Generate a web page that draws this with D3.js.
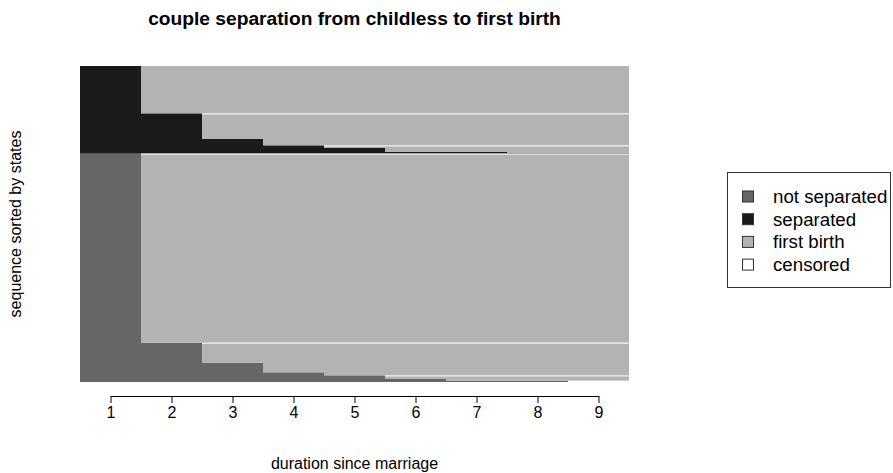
<!DOCTYPE html>
<html lang="en">
<head>
    <meta charset="UTF-8">
    <title>couple separation from childless to first birth</title>
    <script src="https://d3js.org/d3.v7.min.js"></script>
    <style>
        body { margin: 0; background: #fff; }
        text { font-family: Arial, "Liberation Sans", sans-serif; fill: #000; }
    </style>
</head>
<body>
    <div id="chart"></div>
    <script>
        // States (alphabet) and their codes
        const stateCodes = ["N", "S", "F", "C"];
        const stateLabels = ["not separated", "separated", "first birth", "censored"];
        const stateColors = ["#666666", "#1a1a1a", "#b3b3b3", "#ffffff"];

        // Time points
        const periods = [1, 2, 3, 4, 5, 6, 7, 8, 9];

        // Distinct sequences, in sorted order (first one drawn at the bottom)
        const sequences = [
            "NNNNNNNNC", "NNNNNNFFF", "NNNNNFFFF", "NNNNFFFFF", "NNNFFFFFF",
            "NNFFFFFFF", "NFFFFFFFF",
            "SSSSSSSSS", "SSSSSSSFF", "SSSSSFFFF", "SSSSFFFFF", "SSSFFFFFF",
            "SSFFFFFFF", "SFFFFFFFF"
        ];
        // Number of couples following each sequence
        const seqCounts = [4, 5, 11, 9, 29, 60, 567, 3, 3, 11, 8, 19, 77, 142];

        // Sequences whose first-birth spell shows a light seam on top (as in the original)
        const seamSeqs = ["NNNNNFFFF", "NNFFFFFFF", "NFFFFFFFF", "SSSSFFFFF", "SSFFFFFFF"];

        const W = 893, H = 473;
        const svg = d3.select("#chart").append("svg")
            .attr("width", W)
            .attr("height", H);

        const total = d3.sum(seqCounts);
        const cumStart = d3.cumsum([0].concat(seqCounts));

        // Scales
        const x = d3.scaleLinear().domain([0.5, 9.5]).range([80, 629]);
        const y = d3.scaleLinear().domain([0, total]).range([382, 66]);
        const color = d3.scaleOrdinal().domain(stateCodes).range(stateColors);

        // For every period, merge neighbouring sequences in the same state into one block
        const blocks = [];
        periods.forEach((p, t) => {
            let i0 = 0;
            for (let i = 1; i <= sequences.length; i++) {
                if (i === sequences.length || sequences[i][t] !== sequences[i0][t]) {
                    blocks.push({state: sequences[i0][t], period: p, y0: cumStart[i0], y1: cumStart[i]});
                    i0 = i;
                }
            }
        });

        // seams on top of selected first-birth spells
        const seams = [];
        sequences.forEach((s, i) => {
            if (seamSeqs.includes(s)) {
                seams.push({from: periods[s.indexOf("F")], y: cumStart[i + 1]});
            }
        });

        // Sequence blocks
        svg.append("g").selectAll("rect")
            .data(blocks)
            .enter().append("rect")
            .attr("x", d => x(d.period - 0.5))
            .attr("width", d => x(d.period + 0.5) - x(d.period - 0.5))
            .attr("y", d => y(d.y1))
            .attr("height", d => y(d.y0) - y(d.y1))
            .attr("fill", d => color(d.state));

        // light seams between blocks
        svg.append("g").selectAll("line")
            .data(seams)
            .enter().append("line")
            .attr("x1", d => x(d.from - 0.5))
            .attr("x2", x(9.5))
            .attr("y1", d => y(d.y) + 0.5)
            .attr("y2", d => y(d.y) + 0.5)
            .attr("stroke", "#f2f2f2")
            .attr("stroke-width", 1.2);

        // x axis (R style: line from first to last tick)
        const xAxisScale = d3.scaleLinear().domain([1, 9]).range([x(1), x(9)]);
        const xAxis = svg.append("g")
            .attr("transform", "translate(0,396)")
            .call(d3.axisBottom(xAxisScale).tickValues(periods).tickFormat(d3.format("d"))
                .tickSize(7).tickSizeOuter(0).tickPadding(4));
        xAxis.select(".domain").attr("stroke", "#000");
        xAxis.selectAll(".tick line").attr("stroke", "#000");
        xAxis.selectAll("text").attr("font-size", "16px")
            .attr("font-family", "Arial, 'Liberation Sans', sans-serif");

        // Title and axis labels
        svg.append("text")
            .attr("x", (x(0.5) + x(9.5)) / 2)
            .attr("y", 25)
            .attr("text-anchor", "middle")
            .attr("font-size", "19.2px")
            .attr("font-weight", "bold")
            .text("couple separation from childless to first birth");

        svg.append("text")
            .attr("x", (x(0.5) + x(9.5)) / 2)
            .attr("y", 469)
            .attr("text-anchor", "middle")
            .attr("font-size", "16px")
            .text("duration since marriage");

        svg.append("text")
            .attr("transform", "translate(21," + (y(total / 2)) + ") rotate(-90)")
            .attr("text-anchor", "middle")
            .attr("font-size", "16px")
            .text("sequence sorted by states");

        // Legend
        const legend = svg.append("g");
        legend.append("rect")
            .attr("x", 727.5).attr("y", 172.5)
            .attr("width", 163).attr("height", 115)
            .attr("fill", "none")
            .attr("stroke", "#333");

        const item = legend.selectAll(".item")
            .data(stateLabels)
            .enter().append("g")
            .attr("class", "item")
            .attr("transform", (d, i) => "translate(0," + (196.5 + i * 22.7) + ")");

        item.append("rect")
            .attr("x", 742.5).attr("y", -5.5)
            .attr("width", 11).attr("height", 11)
            .attr("fill", (d, i) => stateColors[i])
            .attr("stroke", "#333");

        item.append("text")
            .attr("x", 773)
            .attr("dy", "0.35em")
            .attr("font-size", "18.7px")
            .text(d => d);
    </script>
</body>
</html>
